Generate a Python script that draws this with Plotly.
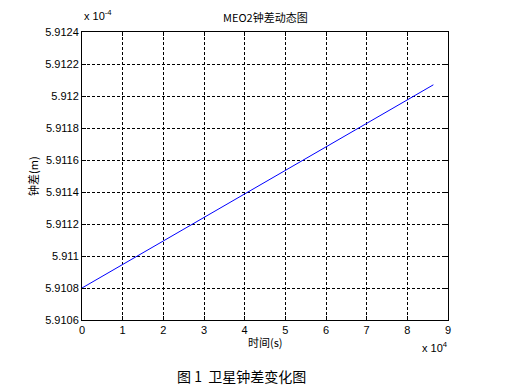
import plotly.graph_objects as go

# data
time_s = [0, 86400]
clock_m = [5.9108e-4, 5.91207e-4]
x_ticks = [0, 1, 2, 3, 4, 5, 6, 7, 8, 9]
y_ticks = [5.9106, 5.9108, 5.9110, 5.9112, 5.9114, 5.9116, 5.9118, 5.9120, 5.9122, 5.9124]
y_tick_text = ["5.9106", "5.9108", "5.911", "5.9112", "5.9114", "5.9116", "5.9118", "5.912", "5.9122", "5.9124"]

xs = [t / 1e4 for t in time_s]
ys = [v / 1e-4 for v in clock_m]

font = "Liberation Sans, Arial, Noto Sans CJK SC"
cjk = "Noto Sans CJK SC, Liberation Sans"

# page has an 8px body margin; work in window pixels
OFF = 8
W, H = 520 - OFF, 392 - OFF
L, R, T, B = 82, 448, 32, 320  # plot area edges in window pixels
ml, mt = L - OFF, T - OFF
mr, mb = W - (R - OFF), H - (B - OFF)
pw, ph = R - L, B - T


def px(x, y):
    return (x - L) / pw, (B - y) / ph


fig = go.Figure()
fig.add_trace(go.Scatter(x=xs, y=ys, mode="lines", line=dict(color="#0000ff", width=1), showlegend=False))

axis_common = dict(
    showline=True, linecolor="black", linewidth=1, mirror="ticks",
    showgrid=True, gridcolor="black", gridwidth=1, griddash="3px,2px",
    ticks="inside", ticklen=4, tickcolor="black", zeroline=False,
    tickfont=dict(family=font, size=11, color="black"),
)


def ann(text, x, y, size=11, fam=cjk, **kw):
    ax, ay = px(x, y)
    d = dict(text=text, x=ax, y=ay, xref="paper", yref="paper", showarrow=False,
             font=dict(family=fam, size=size, color="black"))
    d.setdefault("yanchor", "middle")
    d.update(kw)
    return d


fig.update_layout(
    width=W, height=H,
    margin=dict(l=ml, r=mr, t=mt, b=mb),
    paper_bgcolor="white", plot_bgcolor="white",
    xaxis=dict(range=[0, 9], tickvals=x_ticks, ticktext=[str(v) for v in x_ticks], **axis_common),
    yaxis=dict(range=[5.9106, 5.9124], tickvals=y_ticks, ticktext=y_tick_text, **axis_common),
    annotations=[
        ann("MEO2钟差动态图", 265, 17),
        ann("x 10<sup>-4</sup>", 82, 24, fam=font, xanchor="left", yanchor="bottom"),
        ann("时间(s)", 265, 342),
        ann("x 10<sup>4</sup>", 450, 347, fam=font, xanchor="right"),
        ann("钟差(m)", 23, 176, textangle=-90),
        ann("图 1  卫星钟差变化图", 241, 376, size=14),
    ],
)

fig.write_html("out.html")
